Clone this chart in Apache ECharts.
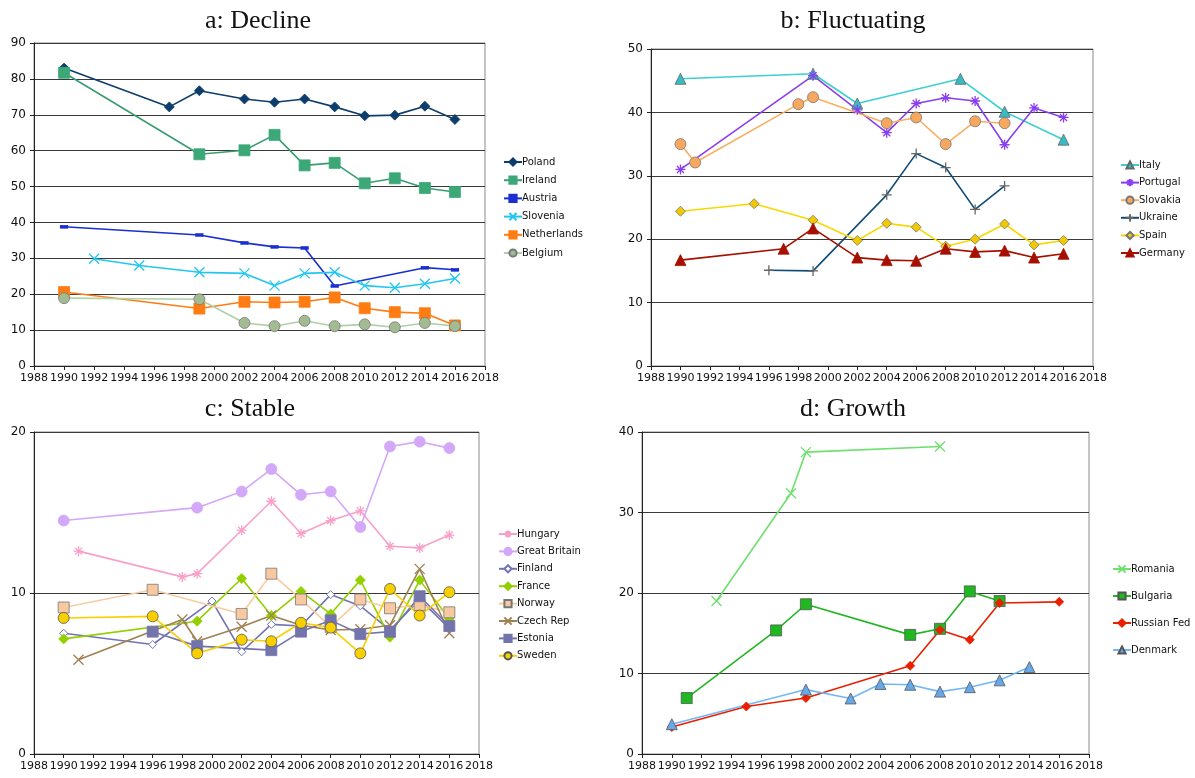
<!DOCTYPE html>
<html>
<head>
<meta charset="utf-8">
<script src="https://cdn.jsdelivr.net/npm/echarts@6/dist/echarts.min.js"></script>
<style>
  html, body { margin: 0; padding: 0; background: #fff; }
  #chart { width: 1195px; height: 778px; }
</style>
</head>
<body>
<div id="chart"></div>
<script>
// Year ticks shared by every panel
const yearTicks = [1988, 2018, 2];

// a: Decline  ([year, value])
const poland = [[1990,83],[1997,72.2],[1999,76.7],[2002,74.4],[2004,73.5],[2006,74.4],[2008,72.2],[2010,69.7],[2012,69.9],[2014,72.4],[2016,68.7]];
const ireland = [[1990,81.7],[1999,59.0],[2002,60.1],[2004,64.4],[2006,55.9],[2008,56.6],[2010,50.9],[2012,52.3],[2014,49.6],[2016,48.5]];
const austria = [[1990,38.8],[1999,36.5],[2002,34.3],[2004,33.2],[2006,32.9],[2008,22.3],[2014,27.4],[2016,26.8]];
const slovenia = [[1992,29.9],[1995,28.0],[1999,26.1],[2002,25.8],[2004,22.4],[2006,25.8],[2008,26.1],[2010,22.4],[2012,21.8],[2014,22.9],[2016,24.4]];
const netherlands = [[1990,20.6],[1999,16.0],[2002,17.9],[2004,17.7],[2006,17.9],[2008,19.1],[2010,16.1],[2012,15.0],[2014,14.7],[2016,11.3]];
const belgium = [[1990,18.9],[1999,18.6],[2002,12.0],[2004,11.1],[2006,12.6],[2008,11.1],[2010,11.6],[2012,10.8],[2014,12.0],[2016,11.1]];

// b: Fluctuating
const italy = [[1990,45.3],[1999,46.1],[2002,41.4],[2009,45.3],[2012,40.1],[2016,35.7]];
const portugal = [[1990,31.0],[1999,45.8],[2002,40.4],[2004,36.8],[2006,41.4],[2008,42.3],[2010,41.8],[2012,34.9],[2014,40.7],[2016,39.2]];
const slovakia = [[1990,35.0],[1991,32.1],[1998,41.3],[1999,42.4],[2004,38.3],[2006,39.2],[2008,35.0],[2010,38.6],[2012,38.3]];
const ukraine = [[1996,15.1],[1999,15.0],[2004,27.0],[2006,33.5],[2008,31.3],[2010,24.7],[2012,28.4]];
const spain = [[1990,24.4],[1995,25.6],[1999,23.0],[2002,19.8],[2004,22.5],[2006,21.9],[2008,18.9],[2010,20.0],[2012,22.4],[2014,19.1],[2016,19.8]];
const germany = [[1990,16.7],[1997,18.5],[1999,21.7],[2002,17.1],[2004,16.7],[2006,16.6],[2008,18.5],[2010,18.0],[2012,18.2],[2014,17.1],[2016,17.7]];

// c: Stable
const hungary = [[1991,12.6],[1998,11.0],[1999,11.2],[2002,13.9],[2004,15.7],[2006,13.7],[2008,14.5],[2010,15.1],[2012,12.9],[2014,12.8],[2016,13.6]];
const greatBritain = [[1990,14.5],[1999,15.3],[2002,16.3],[2004,17.7],[2006,16.1],[2008,16.3],[2010,14.1],[2012,19.1],[2014,19.4],[2016,19.0]];
const finland = [[1990,7.5],[1996,6.8],[2000,9.5],[2002,6.35],[2004,8.05],[2006,7.95],[2008,9.9],[2010,9.2],[2012,7.7],[2014,9.6],[2016,7.8]];
const france = [[1990,7.15],[1999,8.25],[2002,10.9],[2004,8.6],[2006,10.1],[2008,8.7],[2010,10.8],[2012,7.25],[2014,10.8],[2016,8.4]];
const norway = [[1990,9.1],[1996,10.2],[2002,8.7],[2004,11.2],[2006,9.6],[2008,7.9],[2010,9.6],[2012,9.05],[2014,9.25],[2016,8.8]];
const czechRep = [[1991,5.85],[1998,8.35],[1999,7.0],[2002,7.9],[2004,8.6],[2006,8.0],[2008,7.7],[2010,7.75],[2012,8.0],[2014,11.5],[2016,7.5]];
const estonia = [[1996,7.6],[1999,6.7],[2004,6.45],[2006,7.6],[2008,8.3],[2010,7.45],[2012,7.6],[2014,9.8],[2016,7.95]];
const sweden = [[1990,8.45],[1996,8.55],[1999,6.25],[2002,7.1],[2004,7.0],[2006,8.15],[2008,7.85],[2010,6.25],[2012,10.25],[2014,8.6],[2016,10.05]];

// d: Growth
const romania = [[1993,19.0],[1998,32.4],[1999,37.5],[2008,38.2]];
const bulgaria = [[1991,6.95],[1997,15.35],[1999,18.6],[2006,14.8],[2008,15.55],[2010,20.2],[2012,19.0]];
const russianFed = [[1990,3.35],[1995,5.9],[1999,6.95],[2006,10.95],[2008,15.4],[2010,14.2],[2012,18.75],[2016,18.9]];
const denmark = [[1990,3.7],[1999,8.0],[2002,6.9],[2004,8.7],[2006,8.6],[2008,7.75],[2010,8.3],[2012,9.15],[2014,10.8]];

// Panel titles and y ranges
const panelTitles = ['a: Decline', 'b: Fluctuating', 'c: Stable', 'd: Growth'];
const yMax = [90, 50, 20, 40];

// Marker shapes drawn as stroked paths
const SYM = {
  cross: 'path://M0,0L10,10M10,0L0,10',
  star: 'path://M0,5L10,5M1.5,1.5L8.5,8.5M8.5,1.5L1.5,8.5M5,0L5,10',
  plus: 'path://M0,5L10,5M5,0L5,10',
  dash: 'path://M0,0L10,0L10,3L0,3Z'
};
const STROKED = [SYM.cross, SYM.star, SYM.plus];

const FONT = 'DejaVu Sans';

const grids = [
  { left: 34, top: 43, width: 451, height: 323 },
  { left: 651, top: 49, width: 442, height: 317 },
  { left: 34, top: 432, width: 445, height: 322 },
  { left: 642, top: 432, width: 447, height: 322 }
].map(g => Object.assign({ show: true, borderColor: '#8a8a8a', borderWidth: 1, backgroundColor: '#fff' }, g));

const xAxes = grids.map((g, i) => ({
  type: 'value', gridIndex: i, min: yearTicks[0], max: yearTicks[1], interval: yearTicks[2],
  axisLine: { lineStyle: { color: '#222', width: 1 } },
  axisTick: { show: true, length: 4, lineStyle: { color: '#222' } },
  splitLine: { show: false },
  axisLabel: {
    color: '#111', fontFamily: FONT, fontSize: 11, margin: 7, interval: 0, hideOverlap: false,
    showMinLabel: true, showMaxLabel: true, formatter: v => String(v)
  }
}));

const yAxes = grids.map((g, i) => ({
  type: 'value', gridIndex: i, min: 0, max: yMax[i], interval: 10,
  axisLine: { show: true, lineStyle: { color: '#222', width: 1 } },
  axisTick: { show: true, length: 4, lineStyle: { color: '#222' } },
  splitLine: { show: true, lineStyle: { color: '#3a3a3a', width: 1 } },
  axisLabel: { color: '#111', fontFamily: FONT, fontSize: 12, margin: 8 }
}));

function line(name, data, panel, color, symbol, size, opts) {
  opts = opts || {};
  const stroked = STROKED.indexOf(symbol) >= 0;
  const fill = opts.fill || color;
  return {
    name, type: 'line', data,
    xAxisIndex: panel, yAxisIndex: panel,
    symbol, symbolSize: size, showAllSymbol: true,
    lineStyle: { color: opts.lineColor || color, width: opts.lineWidth || 1.6 },
    itemStyle: {
      color: fill,
      borderColor: opts.border || fill,
      borderWidth: opts.borderWidth != null ? opts.borderWidth : (stroked ? 1.3 : 0.8)
    },
    emphasis: { disabled: true },
    animation: false
  };
}

const series = [
  // a
  line('Poland', poland, 0, '#0c3d6c', 'diamond', 10),
  line('Ireland', ireland, 0, '#3a9d72', 'rect', 11, { fill: '#3ca878' }),
  line('Austria', austria, 0, '#1a2fd2', SYM.dash, [7, 3]),
  line('Slovenia', slovenia, 0, '#22c6f0', SYM.cross, 10),
  line('Netherlands', netherlands, 0, '#ff7c12', 'rect', 11),
  line('Belgium', belgium, 0, '#b2d0a8', 'circle', 11, { fill: '#a3bb92', border: '#777' }),
  // b
  line('Italy', italy, 1, '#3cd0d0', 'triangle', 11, { fill: '#36bcc2', border: '#666' }),
  line('Portugal', portugal, 1, '#8a3ef0', SYM.star, 10),
  line('Slovakia', slovakia, 1, '#f8b060', 'circle', 11, { fill: '#f8a85e', border: '#777' }),
  line('Ukraine', ukraine, 1, '#0f4c7a', SYM.plus, 10, { border: '#666', fill: '#666' }),
  line('Spain', spain, 1, '#f8d800', 'diamond', 10, { fill: '#f2c800', border: '#777' }),
  line('Germany', germany, 1, '#a51000', 'triangle', 11),
  // c
  line('Hungary', hungary, 2, '#f8a0c8', SYM.star, 10),
  line('Great Britain', greatBritain, 2, '#d3a8f8', 'circle', 11),
  line('Finland', finland, 2, '#7274b2', 'diamond', 8, { fill: '#fff', border: '#7274b2', borderWidth: 1 }),
  line('France', france, 2, '#92d000', 'diamond', 10),
  line('Norway', norway, 2, '#f8cca2', 'rect', 11, { fill: '#f8c8a0', border: '#777' }),
  line('Czech Rep', czechRep, 2, '#a08050', SYM.cross, 10),
  line('Estonia', estonia, 2, '#7474ac', 'rect', 11),
  line('Sweden', sweden, 2, '#f8d000', 'circle', 11, { fill: '#f8d000', border: '#555' }),
  // d
  line('Romania', romania, 3, '#6ee06e', SYM.cross, 10),
  line('Bulgaria', bulgaria, 3, '#22b622', 'rect', 11, { fill: '#20b820', border: '#555' }),
  line('Russian Fed', russianFed, 3, '#e82000', 'diamond', 9),
  line('Denmark', denmark, 3, '#72b8f8', 'triangle', 11, { fill: '#66a8e8', border: '#555' })
];

function legend(names, left, top, gap) {
  return {
    data: names, orient: 'vertical', left, top, itemGap: gap, padding: 0,
    itemWidth: 18, itemHeight: 9, selectedMode: false,
    textStyle: { fontFamily: FONT, fontSize: 10, color: '#111', padding: [0, 0, 0, -5] }
  };
}

const titlePos = [[253, 3], [848, 3], [245, 391], [848, 391]];

const option = {
  backgroundColor: '#fff',
  animation: false,
  title: panelTitles.map((t, i) => ({
    text: t, left: titlePos[i][0], top: titlePos[i][1], textAlign: 'center',
    textStyle: { fontFamily: 'Liberation Serif', fontSize: 26, fontWeight: 'normal', color: '#111' }
  })),
  legend: [
    legend(['Poland', 'Ireland', 'Austria', 'Slovenia', 'Netherlands', 'Belgium'], 503, 157, 8.2),
    legend(['Italy', 'Portugal', 'Slovakia', 'Ukraine', 'Spain', 'Germany'], 1120, 160, 7.6),
    legend(['Hungary', 'Great Britain', 'Finland', 'France', 'Norway', 'Czech Rep', 'Estonia', 'Sweden'], 498, 529, 7.4),
    legend(['Romania', 'Bulgaria', 'Russian Fed', 'Denmark'], 1112, 564, 17)
  ],
  grid: grids,
  xAxis: xAxes,
  yAxis: yAxes,
  series
};

const chart = echarts.init(document.getElementById('chart'), null, { renderer: 'canvas' });
chart.setOption(option);
</script>
</body>
</html>
